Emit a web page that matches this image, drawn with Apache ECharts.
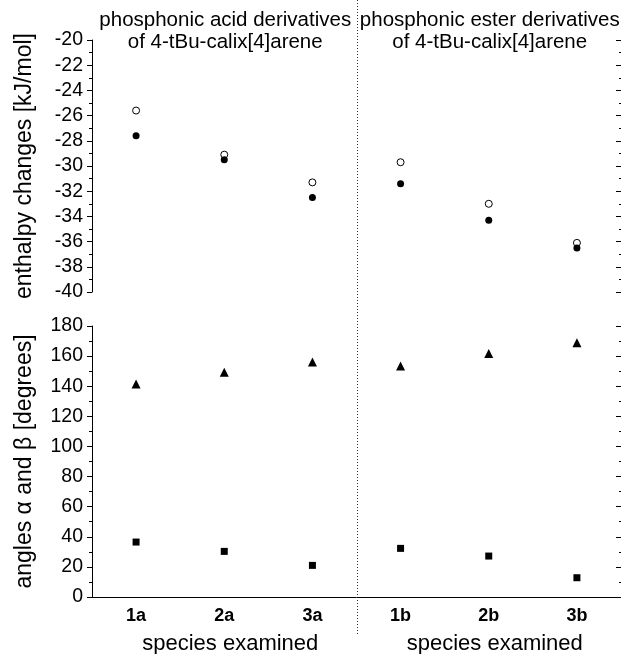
<!DOCTYPE html>
<html>
<head>
<meta charset="utf-8">
<script src="https://cdn.jsdelivr.net/npm/echarts@6/dist/echarts.min.js"></script>
<style>
  html, body { margin: 0; padding: 0; background: #fff; }
  #chart { width: 621px; height: 654px; }
</style>
</head>
<body>
<div id="chart"></div>
<script>
// categories and values
const categories = ['1a', '2a', '3a', '1b', '2b', '3b'];
const enthalpyOpen = [-25.6, -29.1, -31.3, -29.7, -33.0, -36.1];
const enthalpyFilled = [-27.6, -29.5, -32.5, -31.4, -34.3, -36.5];
const angleTriangle = [141.5, 149.2, 156.1, 153.4, 161.8, 168.9];
const angleSquare = [36.5, 30.3, 21.0, 32.3, 27.2, 12.8];
const groupTitles = [
  ['phosphonic acid derivatives', 'of 4-tBu-calix[4]arene'],
  ['phosphonic ester derivatives', 'of 4-tBu-calix[4]arene']
];
const groupCenters = ['2a', '2b'];
const xName = 'species examined';
const topName = 'enthalpy changes [kJ/mol]';
const bottomName = 'angles \u03b1 and \u03b2 [degrees]';

const FONT = '"Liberation Sans", Arial, sans-serif';
const black = '#000';

var myChart = echarts.init(document.getElementById('chart'));

function leftAxis(grid, min, max, interval, name) {
  return {
    type: 'value', gridIndex: grid, position: 'left',
    min: min, max: max, interval: interval,
    name: name, nameLocation: 'middle', nameGap: 56,
    nameTextStyle: { color: black, fontSize: 23, fontFamily: FONT },
    axisLine: { show: true, lineStyle: { color: black, width: 1 } },
    axisTick: { show: true, length: 5, lineStyle: { color: black } },
    minorTick: { show: true, splitNumber: 2, length: 3, lineStyle: { color: black } },
    axisLabel: { color: black, fontSize: 19.5, fontFamily: FONT, margin: 9 },
    splitLine: { show: false }
  };
}
function rightAxis(grid, min, max, interval) {
  return {
    type: 'value', gridIndex: grid, position: 'right',
    min: min, max: max, interval: interval,
    axisLine: { show: true, lineStyle: { color: black, width: 1 } },
    axisTick: { show: true, inside: true, length: 5, lineStyle: { color: black } },
    minorTick: { show: true, splitNumber: 2, length: 2, lineStyle: { color: black } },
    axisLabel: { show: false },
    splitLine: { show: false }
  };
}

myChart.setOption({
  animation: false,
  grid: [
    { left: 92, right: 0, top: 40, height: 252 },
    { left: 92, right: 0, top: 326, height: 271 }
  ],
  xAxis: [
    { type: 'category', gridIndex: 0, data: categories, show: false },
    {
      type: 'category', gridIndex: 1, data: categories,
      axisLine: { lineStyle: { color: black, width: 1 } },
      axisTick: { alignWithLabel: true, length: 5, lineStyle: { color: black } },
      axisLabel: { color: black, fontSize: 18, fontWeight: 'bold', fontFamily: FONT, margin: 10 }
    }
  ],
  yAxis: [
    leftAxis(0, -40, -20, 2, topName),
    leftAxis(1, 0, 180, 20, bottomName),
    rightAxis(0, -40, -20, 2),
    rightAxis(1, 0, 180, 20)
  ],
  series: [
    {
      name: 'open', type: 'scatter', xAxisIndex: 0, yAxisIndex: 0,
      data: enthalpyOpen, symbol: 'circle', symbolSize: 7,
      itemStyle: { color: '#fff', borderColor: black, borderWidth: 1, opacity: 1 }
    },
    {
      name: 'filled', type: 'scatter', xAxisIndex: 0, yAxisIndex: 0,
      data: enthalpyFilled, symbol: 'circle', symbolSize: 7,
      itemStyle: { color: black, opacity: 1 }
    },
    {
      name: 'triangle', type: 'scatter', xAxisIndex: 1, yAxisIndex: 1,
      data: angleTriangle, symbol: 'triangle', symbolSize: 9,
      itemStyle: { color: black, opacity: 1 }
    },
    {
      name: 'square', type: 'scatter', xAxisIndex: 1, yAxisIndex: 1,
      data: angleSquare, symbol: 'rect', symbolSize: 7,
      itemStyle: { color: black, opacity: 1 }
    }
  ]
});

// separator, group titles and x names placed from the axis scale
const p3a = myChart.convertToPixel({ xAxisIndex: 1 }, '3a');
const p1b = myChart.convertToPixel({ xAxisIndex: 1 }, '1b');
const sepX = Math.round((p3a + p1b) / 2) + 0.5;
const graphics = [{
  type: 'line', shape: { x1: sepX, y1: 0, x2: sepX, y2: 636 },
  style: { stroke: '#333', lineWidth: 1, lineDash: [1, 2] }
}];
groupCenters.forEach(function (c, i) {
  const cx = myChart.convertToPixel({ xAxisIndex: 1 }, c);
  graphics.push({
    type: 'text', x: cx + 1, y: 9,
    style: {
      text: groupTitles[i].join('\n'), fill: black, font: '20.5px ' + FONT,
      align: 'center', verticalAlign: 'top', lineHeight: 22
    }
  });
  graphics.push({
    type: 'text', x: cx + 6, y: 644,
    style: {
      text: xName, fill: black, font: '22px ' + FONT,
      align: 'center', verticalAlign: 'middle'
    }
  });
});
myChart.setOption({ graphic: graphics });
</script>
</body>
</html>
